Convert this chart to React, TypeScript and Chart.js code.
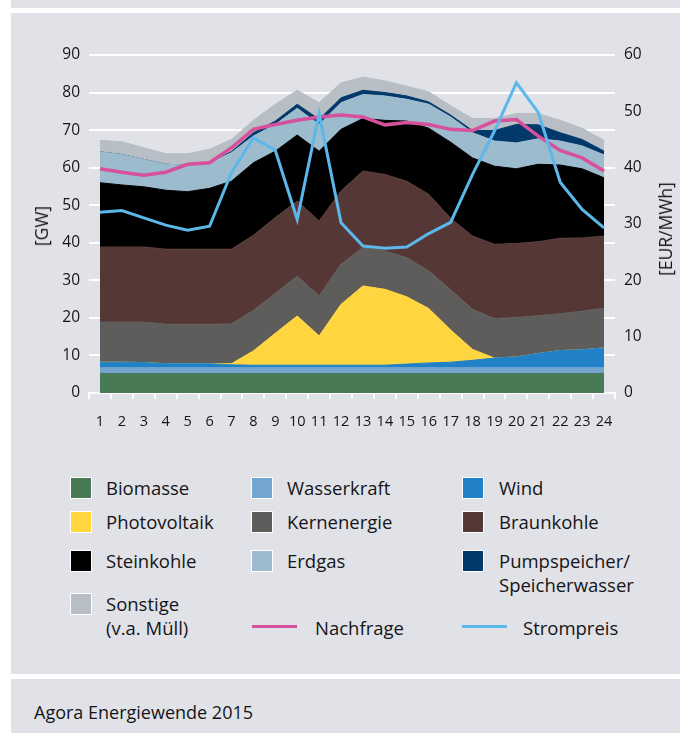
import React, { useEffect, useRef } from 'react';
import { Chart, registerables } from 'chart.js';

Chart.register(...registerables);

// ---------- data ----------
const hours = ['1','2','3','4','5','6','7','8','9','10','11','12','13','14','15','16','17','18','19','20','21','22','23','24'];

const biomasse = [5.2,5.2,5.2,5.2,5.2,5.2,5.2,5.2,5.2,5.2,5.2,5.2,5.2,5.2,5.2,5.2,5.2,5.2,5.2,5.2,5.2,5.2,5.2,5.2];
const wasserkraft = [1.5,1.5,1.5,1.5,1.5,1.5,1.5,1.5,1.5,1.5,1.5,1.5,1.5,1.5,1.5,1.5,1.5,1.5,1.5,1.5,1.5,1.5,1.5,1.5];
const wind = [1.5,1.5,1.4,1.1,1.1,1.1,0.8,0.7,0.7,0.7,0.7,0.7,0.7,0.7,1.0,1.3,1.5,2.0,2.6,2.9,3.8,4.6,4.8,5.3];
const photovoltaik = [0,0,0,0,0,0,0.3,3.8,8.5,13.1,7.8,16.2,21.1,20.2,17.9,14.5,8.6,2.9,0,0,0,0,0,0];
const kernenergie = [10.7,10.7,10.8,10.5,10.5,10.5,10.6,10.8,10.6,10.6,10.6,10.7,10.2,10.2,10.4,10.0,10.7,10.7,10.5,10.5,10.1,9.8,10.3,10.6];
const braunkohle = [20.0,20.0,20.0,20.0,20.0,20.0,19.9,20.0,20.2,20.0,20.0,19.5,20.4,20.4,20.4,20.4,19.0,19.5,19.8,19.7,19.7,20.1,19.5,19.2];
const steinkohle = [17.1,16.5,16.0,15.7,15.3,16.2,18.1,19.3,17.7,17.6,18.6,16.4,14.0,14.4,16.0,17.6,20.3,20.8,20.8,19.9,20.6,19.5,18.4,15.5];
const erdgas = [8.2,8.1,7.3,6.9,7.1,6.8,7.6,7.1,7.1,7.1,7.1,7.1,6.4,6.5,5.8,6.4,6.7,6.7,6.7,6.9,6.8,6.4,6.1,6.1];
const pumpspeicher = [0,0,0,0,0,0,0.3,0.9,0.9,1.1,1.4,1.3,1.1,0.9,0.9,0.6,0.5,0.6,2.8,4.9,3.7,2.2,1.7,1.0];
const sonstige = [3.1,3.4,3.1,2.8,3.0,3.6,3.2,3.3,4.5,3.7,4.4,4.0,3.5,3.1,2.6,2.7,2.5,3.2,3.2,2.9,3.0,3.3,3.0,2.9];

const nachfrage = [59.7,58.8,58.0,58.8,60.9,61.3,65.3,70.2,71.5,72.6,73.5,74.0,73.5,71.4,72.0,71.5,70.2,69.9,72.4,72.8,68.4,64.6,62.6,59.1];
const strompreis = [32.1,32.4,31.1,29.8,28.9,29.6,39.1,45.3,43.1,30.8,49.6,30.2,26.1,25.7,25.9,28.3,30.3,38.8,46.5,55.1,49.8,37.4,32.6,29.3];

const leftTicks = [0,10,20,30,40,50,60,70,80,90];
const rightTicks = [0,10,20,30,40,50,60];

// ---------- styles ----------
const BG = '#e1e2e7';
const FONT = '"Open Sans", sans-serif';
const TEXT = '#151517';
const C = {
  biomasse: '#4a7a55',
  wasserkraft: '#73a5ce',
  wind: '#2181c6',
  photovoltaik: '#ffd640',
  kernenergie: '#5f5d5b',
  braunkohle: '#553835',
  steinkohle: '#000000',
  erdgas: '#9cbbcd',
  pumpspeicher: '#02386a',
  sonstige: '#b7bec5',
  nachfrage: '#d6509b',
  strompreis: '#5cb7ea',
};

const areaSeries: [string, number[], string][] = [
  ['Biomasse', biomasse, C.biomasse],
  ['Wasserkraft', wasserkraft, C.wasserkraft],
  ['Wind', wind, C.wind],
  ['Photovoltaik', photovoltaik, C.photovoltaik],
  ['Kernenergie', kernenergie, C.kernenergie],
  ['Braunkohle', braunkohle, C.braunkohle],
  ['Steinkohle', steinkohle, C.steinkohle],
  ['Erdgas', erdgas, C.erdgas],
  ['Pumpspeicher/Speicherwasser', pumpspeicher, C.pumpspeicher],
  ['Sonstige (v.a. Müll)', sonstige, C.sonstige],
];

export default function App() {
  const ref = useRef<HTMLCanvasElement>(null);

  useEffect(() => {
    const areaDatasets = areaSeries.map(([label, data, color], i) => ({
      type: 'line' as const,
      label,
      data,
      yAxisID: 'y',
      stack: 'mix',
      backgroundColor: color,
      borderColor: color,
      borderWidth: 1,
      fill: i === 0 ? 'origin' : '-1',
      pointRadius: 0,
      tension: 0,
      order: 2,
    }));
    const chart = new Chart(ref.current as HTMLCanvasElement, {
      type: 'line',
      data: {
        labels: hours,
        datasets: [
          ...areaDatasets,
          {
            label: 'Nachfrage',
            data: nachfrage,
            yAxisID: 'y',
            stack: 'demand',
            borderColor: C.nachfrage,
            backgroundColor: C.nachfrage,
            borderWidth: 3.5,
            fill: false,
            pointRadius: 0,
            tension: 0,
            order: 1,
          },
          {
            label: 'Strompreis',
            data: strompreis,
            yAxisID: 'y2',
            borderColor: C.strompreis,
            backgroundColor: C.strompreis,
            borderWidth: 3,
            fill: false,
            pointRadius: 0,
            tension: 0,
            order: 0,
          },
        ] as any,
      },
      options: {
        responsive: false,
        maintainAspectRatio: false,
        animation: false,
        layout: { padding: { top: 42, left: 0, right: 0, bottom: 0 } },
        plugins: { legend: { display: false }, tooltip: { enabled: false } },
        scales: {
          x: {
            type: 'category',
            offset: true,
            grid: {
              offset: true,
              drawOnChartArea: false,
              drawTicks: true,
              tickLength: 6,
              color: '#ffffff',
              lineWidth: 2,
            },
            border: { display: true, color: '#ffffff', width: 2 },
            ticks: {
              color: TEXT,
              font: { family: FONT, size: 14.5 },
              padding: 14,
              maxRotation: 0,
              autoSkip: false,
            },
            afterFit: (s: any) => { s.height = 60; },
          },
          y: {
            type: 'linear',
            position: 'left',
            stacked: true,
            min: 0,
            max: 90,
            afterBuildTicks: (s: any) => { s.ticks = leftTicks.map((v) => ({ value: v })); },
            grid: { color: (ctx: any) => (ctx.tick && ctx.tick.value === 0 ? 'rgba(0,0,0,0)' : '#ffffff'), lineWidth: 2, drawTicks: false },
            border: { display: false },
            ticks: { color: TEXT, font: { family: FONT, size: 15.5 }, padding: 9 },
            afterFit: (s: any) => { s.width = 78; },
          },
          y2: {
            type: 'linear',
            position: 'right',
            min: 0,
            max: 60,
            afterBuildTicks: (s: any) => { s.ticks = rightTicks.map((v) => ({ value: v })); },
            grid: { drawOnChartArea: false, drawTicks: false },
            border: { display: false },
            ticks: { color: TEXT, font: { family: FONT, size: 15.5 }, padding: 9 },
            afterFit: (s: any) => { s.width = 65; },
          },
        },
      } as any,
    });
    return () => chart.destroy();
  }, []);

  const abs = (s: React.CSSProperties): React.CSSProperties => ({ position: 'absolute', ...s });
  const txt: React.CSSProperties = { position: 'absolute', fontSize: 18.5, lineHeight: '24px', color: TEXT, whiteSpace: 'nowrap' };
  const sw = (left: number, top: number, color: string) => (
    <div style={abs({ left, top, width: 20, height: 20, background: color, border: '1px solid #ffffff' })} />
  );

  return (
    <div style={{ position: 'absolute', left: 0, top: 0, width: 680, height: 733, background: '#ffffff', fontFamily: FONT, overflow: 'hidden' }}>
      <div style={abs({ left: 11, top: 0, width: 669, height: 8, background: BG })} />
      <div style={abs({ left: 11, top: 13, width: 669, height: 661, background: BG })} />
      <div style={abs({ left: 11, top: 679, width: 669, height: 54, background: BG })} />

      <canvas ref={ref} width={669} height={440} style={{ position: 'absolute', left: 11, top: 13, width: 669, height: 440 }} />

      <div style={abs({ left: 41, top: 226, transform: 'translate(-50%,-50%) rotate(-90deg)', fontSize: 17.5, color: TEXT, whiteSpace: 'nowrap' })}>[GW]</div>
      <div style={abs({ left: 665, top: 229, transform: 'translate(-50%,-50%) rotate(-90deg)', fontSize: 17.5, color: TEXT, whiteSpace: 'nowrap' })}>[EUR/MWh]</div>

      {/* legend column 1 */}
      {sw(70, 477, C.biomasse)}
      <div style={{ ...txt, left: 106, top: 476 }}>Biomasse</div>
      {sw(70, 511, C.photovoltaik)}
      <div style={{ ...txt, left: 106, top: 510 }}>Photovoltaik</div>
      {sw(70, 550, C.steinkohle)}
      <div style={{ ...txt, left: 106, top: 549 }}>Steinkohle</div>
      {sw(70, 593, C.sonstige)}
      <div style={{ ...txt, left: 106, top: 592 }}>Sonstige<br />(v.a. Müll)</div>

      {/* legend column 2 */}
      {sw(251, 477, C.wasserkraft)}
      <div style={{ ...txt, left: 287, top: 476 }}>Wasserkraft</div>
      {sw(251, 511, C.kernenergie)}
      <div style={{ ...txt, left: 287, top: 510 }}>Kernenergie</div>
      {sw(251, 550, C.erdgas)}
      <div style={{ ...txt, left: 287, top: 549 }}>Erdgas</div>
      <div style={abs({ left: 252, top: 625, width: 45, height: 3, background: C.nachfrage })} />
      <div style={{ ...txt, left: 315, top: 616 }}>Nachfrage</div>

      {/* legend column 3 */}
      {sw(462, 477, C.wind)}
      <div style={{ ...txt, left: 499, top: 476 }}>Wind</div>
      {sw(462, 511, C.braunkohle)}
      <div style={{ ...txt, left: 499, top: 510 }}>Braunkohle</div>
      {sw(462, 550, C.pumpspeicher)}
      <div style={{ ...txt, left: 499, top: 549 }}>Pumpspeicher/<br />Speicherwasser</div>
      <div style={abs({ left: 462, top: 625, width: 45, height: 3, background: C.strompreis })} />
      <div style={{ ...txt, left: 523, top: 616 }}>Strompreis</div>

      <div style={{ ...txt, fontSize: 18, left: 34, top: 700 }}>Agora Energiewende 2015</div>
    </div>
  );
}
